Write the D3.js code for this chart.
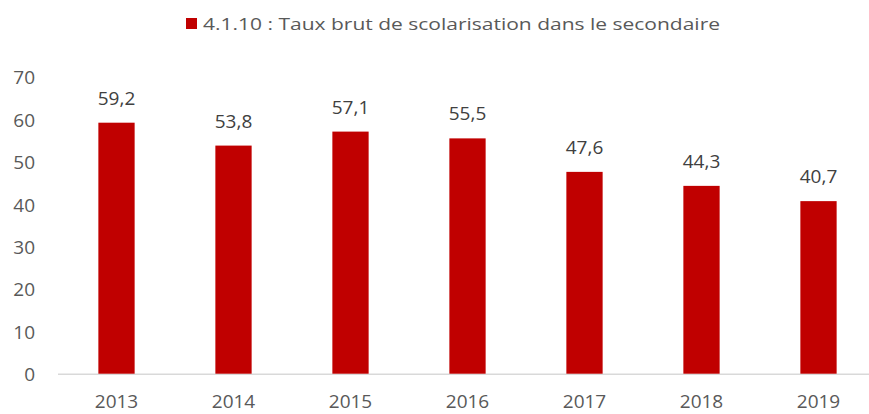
<!DOCTYPE html>
<html><head><meta charset="utf-8">
<script src="https://cdn.jsdelivr.net/npm/d3@7"></script>
<style>body{margin:0;background:#fff}svg{display:block}</style>
</head><body>
<script>
const categories = ["2013","2014","2015","2016","2017","2018","2019"];
const values = [59.2,53.8,57.1,55.5,47.6,44.3,40.7];
const valueLabels = ["59,2","53,8","57,1","55,5","47,6","44,3","40,7"];
const yTicks = [0,10,20,30,40,50,60,70];
const seriesName = "4.1.10 : Taux brut de scolarisation dans le secondaire";

const W = 869, H = 414;
const svg = d3.select("body").append("svg").attr("width", W).attr("height", H);
const font = "Open Sans, Liberation Sans, sans-serif";

const x = d3.scaleBand().domain(categories).range([58, 877]).paddingInner(0.69).paddingOuter(0.345);
const y = d3.scaleLinear().domain([0,70]).range([373.7, 76.9]);

// baseline
svg.append("line").attr("x1",58).attr("x2",W).attr("y1",y(0)+0.5).attr("y2",y(0)+0.5)
  .attr("stroke","#d9d9d9").attr("stroke-width",1.5);

// y axis labels
const yAxis = d3.axisLeft(y).tickValues(yTicks).tickSize(0).tickPadding(0);
const gy = svg.append("g").attr("transform","translate(35,0)").call(yAxis);
gy.select(".domain").remove();
gy.selectAll("text").attr("font-family",font).attr("font-size",19).attr("fill","#595959").attr("dy","0.37em");

// x axis labels
const xAxis = d3.axisBottom(x).tickSize(0).tickPadding(0);
const gx = svg.append("g").attr("transform",`translate(0,${y(0)+21})`).call(xAxis);
gx.select(".domain").remove();
gx.selectAll("text").attr("font-family",font).attr("font-size",19).attr("fill","#595959");

// bars
svg.selectAll("rect.bar").data(values).enter().append("rect").attr("class","bar")
  .attr("x",(d,i)=>x(categories[i])).attr("width",x.bandwidth())
  .attr("y",d=>y(d)).attr("height",d=>y(0)-y(d)).attr("fill","#C00000");

// value labels
svg.selectAll("text.val").data(values).enter().append("text").attr("class","val")
  .attr("x",(d,i)=>x(categories[i])+x.bandwidth()/2).attr("y",d=>y(d)-18)
  .attr("text-anchor","middle").attr("font-family",font).attr("font-size",19).attr("fill","#404040")
  .text((d,i)=>valueLabels[i]);

// legend
const lg = svg.append("g");
lg.append("rect").attr("x",186).attr("y",18).attr("width",11).attr("height",11).attr("fill","#C00000");
lg.append("text").attr("x",203).attr("y",30).attr("font-family",font).attr("font-size",17)
  .attr("fill","#595959").attr("textLength",517).attr("lengthAdjust","spacingAndGlyphs").text(seriesName);
</script>
</body></html>
